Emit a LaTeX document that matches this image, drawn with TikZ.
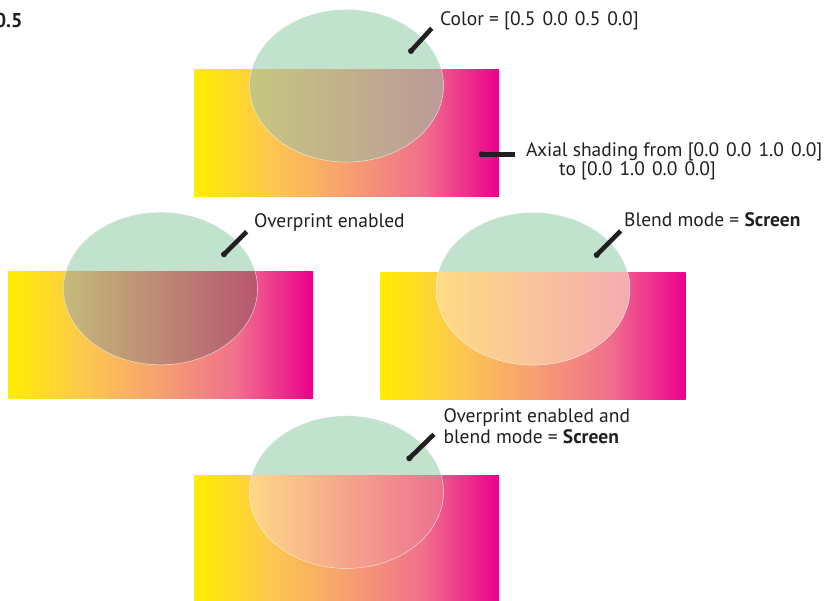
\documentclass[tikz,border=0pt]{standalone}
\usepackage{fontspec}
\setmainfont{PT Sans}
\definecolor{cY}{RGB}{255,237,0}
\definecolor{cA}{RGB}{253,200,78}
\definecolor{cB}{RGB}{247,160,112}
\definecolor{cC}{RGB}{240,112,140}
\definecolor{cM}{RGB}{236,0,140}
\definecolor{mint}{RGB}{193,226,204}
\definecolor{ink}{RGB}{35,31,32}
\newcommand\numgap{\hspace{0.36em}}
\pgfdeclarehorizontalshading{cmykaxial}{100bp}{color(0bp)=(cY); color(25bp)=(cY); color(37.5bp)=(cA); color(50bp)=(cB); color(62.5bp)=(cC); color(75bp)=(cM); color(100bp)=(cM)}
\newcommand\mypanel[7]{%
  % #1,#2 = rect top-left; #3 name; #4,#5,#6 inner left/mid/right colours; #7 unused
  \shade[shading=cmykaxial] (#1,#2) rectangle ++(305,127);
  \fill[mint] (#1+152.5,#2+16.8) ellipse [x radius=97, y radius=76.3];
  \begin{scope}
    \clip (#1,#2) rectangle ++(305,127);
    \shade[left color=#4, middle color=#5, right color=#6] (#1+152.5,#2+16.8) ellipse [x radius=97, y radius=76.3];
  \end{scope}
  \draw[white, line width=0.5pt, opacity=0.6] (#1+152.5,#2+16.8) ellipse [x radius=97, y radius=76.3];
}
\begin{document}
\begin{tikzpicture}[x=1pt,y=-1pt,
  lbl/.style={font=\fontsize{19.5}{21}\selectfont, text=ink, inner sep=0pt, anchor=base west, align=left},
  callout/.style={draw=ink, line width=4.6pt},
  dotend/.style={fill=ink}]
\useasboundingbox (0,0) rectangle (829,600);
\fill[white] (0,0) rectangle (829,600);

% figure number fragment
\node[font=\fontsize{20}{22}\selectfont\bfseries, text=ink, inner sep=0pt, anchor=base east] (fignum) at (22.7,27.7) {0.5};

% panel 1: no overprint
\mypanel{194}{69}{p1}{{rgb,255:red,198;green,198;blue,128}}{{rgb,255:red,196;green,176;blue,138}}{{rgb,255:red,188;green,154;blue,152}}{}
% panel 2: overprint
\mypanel{8}{271.7}{p2}{{rgb,255:red,196;green,186;blue,122}}{{rgb,255:red,194;green,138;blue,120}}{{rgb,255:red,184;green,86;blue,112}}{}
% panel 3: screen
\mypanel{380.5}{272}{p3}{{rgb,255:red,254;green,220;blue,132}}{{rgb,255:red,251;green,196;blue,160}}{{rgb,255:red,245;green,171;blue,178}}{}
% panel 4: overprint + screen
\mypanel{194}{475.3}{p4}{{rgb,255:red,253;green,216;blue,136}}{{rgb,255:red,247;green,172;blue,152}}{{rgb,255:red,238;green,112;blue,144}}{}

% labels (for two-line labels the base anchor is the last line's baseline)
\node[lbl] (lcolor) at (440,25) {Color = [0.5\numgap 0.0\numgap 0.5\numgap 0.0]};
\node[lbl, font=\fontsize{19.5}{16.9}\selectfont] (laxial) at (526,175.5) {Axial shading from [0.0\numgap 0.0\numgap 1.0\numgap 0.0]\\\hspace*{33pt}to [0.0\numgap 1.0\numgap 0.0\numgap 0.0]};
\node[lbl] (lover) at (254,227.3) {Overprint enabled};
\node[lbl] (lblend) at (624,226.7) {Blend mode = \textbf{Screen}};
\node[lbl] (lboth) at (443.3,443.5) {Overprint enabled and\\blend mode = \textbf{Screen}};

% callout coordinates
\coordinate (d1) at (411,51);     \coordinate (e1) at (431.7,28.3);
\coordinate (d2) at (481.7,154.3); \coordinate (e2) at (515,154.3);
\coordinate (d3) at (224,254.3);  \coordinate (e3) at (246.7,231.7);
\coordinate (d4) at (596.7,255);  \coordinate (e4) at (620.7,231);
\coordinate (d5) at (409.3,458.3); \coordinate (e5) at (434,434.3);

\foreach \i in {1,...,5}{
  \draw[callout] (d\i) -- (e\i);
  \fill[dotend] (d\i) circle (3);
}
\end{tikzpicture}
\end{document}
